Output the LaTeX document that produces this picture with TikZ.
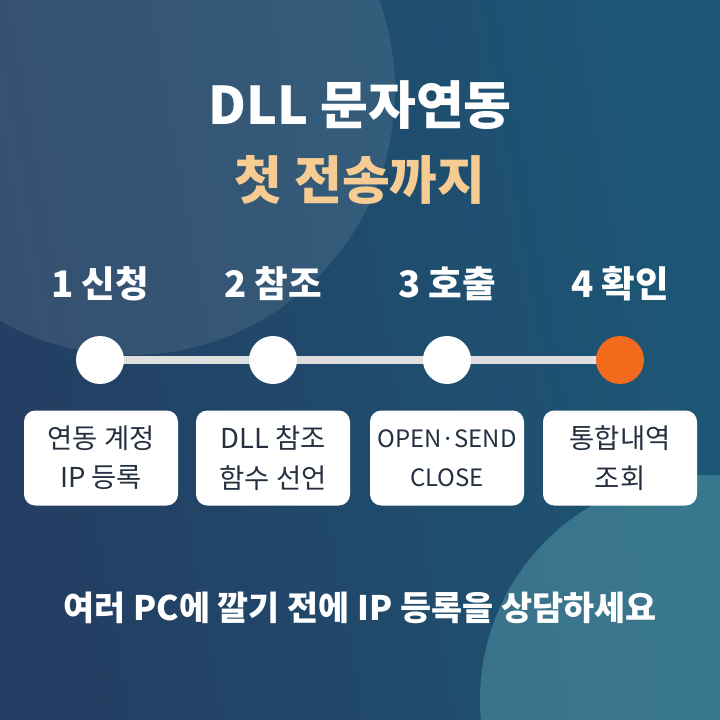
\documentclass[tikz,border=0pt]{standalone}
\usepackage{fontspec}
\setmainfont{Noto Sans CJK KR}
\usetikzlibrary{positioning}
\definecolor{bgtop}{HTML}{233E62}
\definecolor{bgbot}{HTML}{1D5776}
\definecolor{peach}{HTML}{F6CC92}
\definecolor{dot}{HTML}{F26B1D}
\definecolor{ink}{HTML}{253040}
\definecolor{glow}{HTML}{5AA3AE}
\tikzset{
    stepdot/.style={circle, fill=white, minimum size=48*0.025cm, inner sep=0pt},
    steplabel/.style={text=white, font=\bfseries\fontsize{26}{30}\selectfont},
    stepbox/.style={rounded corners=8pt, fill=white, minimum width=154*0.025cm,
        minimum height=95*0.025cm, align=center, text=ink,
        font=\fontsize{19.5}{28}\selectfont},
}
\begin{document}
\begin{tikzpicture}[x=0.025cm, y=-0.025cm]
    % background
    \shade[left color=bgtop, right color=bgbot, shading angle=100]
        (0,0) rectangle (720,720);
    \begin{scope}
        \clip (0,0) rectangle (720,720);
        \fill[white, opacity=0.09] (130,90) circle (265*0.025cm);
        \fill[glow, opacity=0.45] (705,700) circle (225*0.025cm);
    \end{scope}
    \useasboundingbox (0,0) rectangle (720,720);
    % title
    \node[text=white, font=\bfseries\fontsize{37}{44}\selectfont] (title) at (360,105) {DLL 문자연동};
    \node[text=peach, font=\bfseries\fontsize{37}{44}\selectfont] (subtitle) at (360,180) {첫 전송까지};
    % timeline
    \draw[line width=8*0.025cm, color=gray!25] (100,360) -- (620,360);
    \node[stepdot] (d1) at (100,360) {};
    \node[stepdot] (d2) at (273,360) {};
    \node[stepdot] (d3) at (447,360) {};
    \node[stepdot, fill=dot] (d4) at (620,360) {};
    \node[steplabel, above=30*0.025cm of d1] (l1) {1 신청};
    \node[steplabel, above=30*0.025cm of d2] (l2) {2 참조};
    \node[steplabel, above=30*0.025cm of d3] (l3) {3 호출};
    \node[steplabel, above=30*0.025cm of d4] (l4) {4 확인};
    \node[stepbox] (b1) at (101,458) {연동 계정\\IP 등록};
    \node[stepbox] (b2) at (273,458) {DLL 참조\\함수 선언};
    \node[stepbox, font=\fontsize{17}{28}\selectfont, inner xsep=1pt] (b3) at (447,458) {OPEN·SEND\\CLOSE};
    \node[stepbox] (b4) at (620,458) {통합내역\\조회};
    % footer
    \node[text=white, font=\bfseries\fontsize{24}{28}\selectfont] (note) at (360,608)
        {여러 PC에 깔기 전에 IP 등록을  상담하세요};
\end{tikzpicture}
\end{document}
